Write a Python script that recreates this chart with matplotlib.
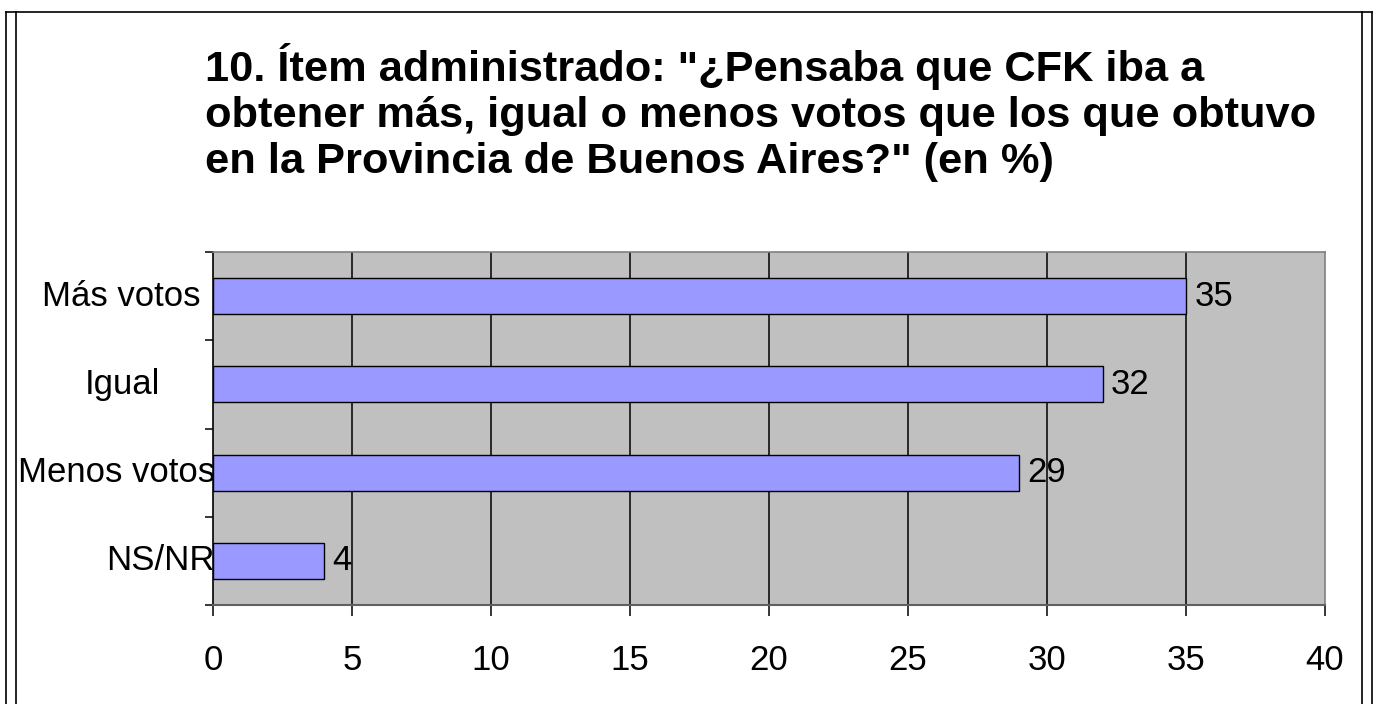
import matplotlib
matplotlib.use('Agg')
import matplotlib.pyplot as plt
from matplotlib.lines import Line2D
import matplotlib.transforms as mtrans

categories = ['Más votos', 'Igual', 'Menos votos', 'NS/NR']
values = [35, 32, 29, 4]
x_ticks = [0, 5, 10, 15, 20, 25, 30, 35, 40]
title = '10. Ítem administrado: "¿Pensaba que CFK iba a\nobtener más, igual o menos votos que los que obtuvo\nen la Provincia de Buenos Aires?" (en %)'

W, H = 1378, 704
plt.rcParams['font.family'] = ['Liberation Sans', 'DejaVu Sans']

fig = plt.figure(figsize=(W / 100, H / 100), dpi=100)
ax = fig.add_axes([213 / W, 1 - 605 / H, (1325 - 213) / W, (605 - 252) / H])
ax.set_facecolor('#C0C0C0')

ys = list(range(len(categories)))
ax.barh(ys, values, height=0.41, color='#9999FF', edgecolor='#000000', linewidth=1.0, zorder=3)

ax.set_xlim(0, 40)
ax.set_ylim(len(categories) - 0.5, -0.5)

# vertical grid
for x in x_ticks[1:-1]:
	ax.axvline(x, color='#000000', linewidth=1.1, zorder=1)

ax.set_xticks(x_ticks)
ax.set_xticklabels([str(x) for x in x_ticks], fontsize=25)
ax.tick_params(axis='x', direction='out', length=8, width=1.1, pad=20, color='#000000')

ax.set_yticks([i - 0.5 for i in range(len(categories) + 1)])
ax.set_yticklabels([])
ax.tick_params(axis='y', direction='out', length=6, width=1.1, color='#000000')

for s in ['top', 'right']:
	ax.spines[s].set_color('#808080')
	ax.spines[s].set_linewidth(1.2)
ax.spines['bottom'].set_color('#606060')
ax.spines['bottom'].set_linewidth(1.5)
ax.spines['left'].set_color('#000000')
ax.spines['left'].set_linewidth(1.2)

# category labels (right edge offsets in pixels from axis)
label_gap = [12, 53, -2, -2]
for i, (cat, g) in enumerate(zip(categories, label_gap)):
	tr = mtrans.blended_transform_factory(ax.transAxes, ax.transData) + mtrans.ScaledTranslation(-g / 100, 0, fig.dpi_scale_trans)
	ax.text(0, i, cat, transform=tr, ha='right', va='center', fontsize=25, zorder=5)

# value labels
for i, v in enumerate(values):
	ax.annotate(str(v), (v, i), xytext=(6, 0), textcoords='offset points', ha='left', va='center', fontsize=25, zorder=5)

fig.text(205 / W, 1 - 43 / H, title, ha='left', va='top', fontsize=31.2, fontweight='bold', linespacing=1.2)

# outer frame
def px_line(x0, y0, x1, y1, lw=1.2):
	fig.add_artist(Line2D([x0 / W, x1 / W], [1 - y0 / H, 1 - y1 / H], color='#000000', linewidth=lw))

px_line(6, 12, 1372, 12)
px_line(6, 12, 6, 704)
px_line(16, 12, 16, 704)
px_line(1362, 12, 1362, 704)
px_line(1372, 12, 1372, 704)

fig.savefig('out.png', dpi=100)
